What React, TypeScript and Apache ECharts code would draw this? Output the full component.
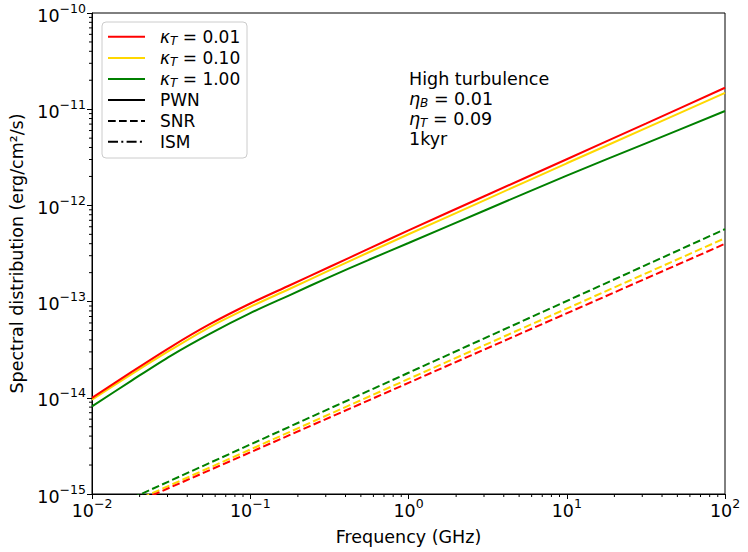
import React, { useEffect, useRef } from 'react';
import * as echarts from 'echarts';

// ---- data ----
const freqGHz = [0.01, 0.0178, 0.0316, 0.0562, 0.1, 0.178, 0.316, 0.562, 1, 3.16, 10, 31.6, 100];
const pwnK001 = [1.0e-14, 1.86e-14, 3.39e-14, 5.89e-14, 9.55e-14, 1.48e-13, 2.29e-13, 3.55e-13, 5.5e-13, 1.29e-12, 3.02e-12, 7.08e-12, 1.67e-11];
const pwnK010 = [9.55e-15, 1.76e-14, 3.16e-14, 5.5e-14, 8.81e-14, 1.36e-13, 2.11e-13, 3.26e-13, 5.01e-13, 1.17e-12, 2.74e-12, 6.35e-12, 1.48e-11];
const pwnK100 = [8.13e-15, 1.51e-14, 2.75e-14, 4.68e-14, 7.59e-14, 1.17e-13, 1.8e-13, 2.72e-13, 4.07e-13, 9.12e-13, 2.04e-12, 4.42e-12, 9.57e-12];

const snrFreqGHz = [0.01, 1, 100];
const snrK001 = [5.14e-16, 1.43e-14, 3.99e-13];
const snrK010 = [5.36e-16, 1.57e-14, 4.56e-13];
const snrK100 = [5.87e-16, 1.82e-14, 5.66e-13];

const kappaLabels = ['0.01', '0.10', '1.00'];
const kappaColors = ['#ff0000', '#ffd700', '#008000'];
const styleLabels = ['PWN', 'SNR', 'ISM'];
const annotationTitle = 'High turbulence';
const etaB = '0.01';
const etaT = '0.09';
const ageLabel = '1kyr';

const xDecades = [-2, -1, 0, 1];
const yDecades = [-15, -14, -13, -12, -11];
const minorSteps = [2, 3, 4, 5, 6, 7, 8, 9];

const xLabel = 'Frequency (GHz)';
const yLabel = 'Spectral distribution (erg/cm²/s)';

const FONT = 'DejaVu Sans';
const DASH = [7.7, 3.3];
const DASHDOT = [10, 3.3, 2, 3.3];

const pair = (xs: number[], ys: number[]) => xs.map((x, i) => [x, ys[i]]);

const expLabel = (v: number) => {
  const e = Math.round(Math.log10(v));
  return `{b|10}{e|${e < 0 ? '\u2212' : ''}${Math.abs(e)}}`;
};

const tickRich = {
  b: { fontSize: 17.5, fontFamily: FONT, color: '#000', lineHeight: 23, verticalAlign: 'bottom' },
  e: { fontSize: 12.5, fontFamily: FONT, color: '#000', lineHeight: 13, verticalAlign: 'top' },
};

export default function App() {
  const ref = useRef<HTMLDivElement>(null);
  useEffect(() => {
    if (!ref.current) return;
    const chart = echarts.init(ref.current, null, { renderer: 'svg' });

    const xMinor: number[][] = [];
    xDecades.forEach((d) => minorSteps.forEach((m) => xMinor.push([m * Math.pow(10, d), 1e-15])));
    const yMinor: number[][] = [];
    yDecades.forEach((d) => minorSteps.forEach((m) => yMinor.push([0.01, m * Math.pow(10, d)])));

    const pwn = [pwnK001, pwnK010, pwnK100];
    const snr = [snrK001, snrK010, snrK100];

    const series: any[] = [];
    pwn.forEach((arr, i) =>
      series.push({
        type: 'line',
        name: 'PWN ' + kappaLabels[i],
        data: pair(freqGHz, arr),
        smooth: 0.3,
        showSymbol: false,
        lineStyle: { color: kappaColors[i], width: 2 },
        z: 3 - i,
      })
    );
    snr.forEach((arr, i) =>
      series.push({
        type: 'line',
        name: 'SNR ' + kappaLabels[i],
        data: pair(snrFreqGHz, arr),
        showSymbol: false,
        lineStyle: { color: kappaColors[i], width: 2, type: DASH },
        z: 3 - i,
      })
    );
    series.push({
      type: 'custom',
      silent: true,
      clip: false,
      data: xMinor,
      encode: { x: 0, y: 1 },
      renderItem: (_p: any, api: any) => {
        const p = api.coord([api.value(0), api.value(1)]);
        return { type: 'line', shape: { x1: p[0], y1: p[1], x2: p[0], y2: p[1] + 3 }, style: { stroke: '#000', lineWidth: 1 } };
      },
    });
    series.push({
      type: 'custom',
      silent: true,
      clip: false,
      data: yMinor,
      encode: { x: 0, y: 1 },
      renderItem: (_p: any, api: any) => {
        const p = api.coord([api.value(0), api.value(1)]);
        return { type: 'line', shape: { x1: p[0] - 3, y1: p[1], x2: p[0], y2: p[1] }, style: { stroke: '#000', lineWidth: 1 } };
      },
    });

    const legendX0 = 108;
    const legendX1 = 145;
    const legendTextX = 160;
    const rowY = [36.7, 58, 79, 100, 121, 141.7];
    const legendEls: any[] = [
      {
        type: 'rect',
        shape: { x: 102, y: 22, width: 145, height: 136, r: 4 },
        style: { fill: 'rgba(255,255,255,0.8)', stroke: '#cccccc', lineWidth: 1 },
      },
    ];
    kappaLabels.forEach((k, i) => {
      legendEls.push({
        type: 'line',
        shape: { x1: legendX0, y1: rowY[i], x2: legendX1, y2: rowY[i] },
        style: { stroke: kappaColors[i], lineWidth: 2 },
      });
      legendEls.push({
        type: 'text',
        x: legendTextX,
        y: rowY[i],
        style: {
          text: `{k|\u03ba}{s|T}{n| = ${k}}`,
          verticalAlign: 'middle',
          rich: {
            k: { fontSize: 17, fontFamily: FONT, fontStyle: 'italic', lineHeight: 20, verticalAlign: 'middle', fill: '#000' },
            s: { fontSize: 12, fontFamily: FONT, fontStyle: 'italic', lineHeight: 12, verticalAlign: 'bottom', fill: '#000' },
            n: { fontSize: 17, fontFamily: FONT, lineHeight: 20, verticalAlign: 'middle', fill: '#000' },
          },
        },
      });
    });
    const dashes = [null, DASH, DASHDOT];
    styleLabels.forEach((s, j) => {
      const y = rowY[3 + j];
      legendEls.push({
        type: 'line',
        shape: { x1: legendX0, y1: y, x2: legendX1, y2: y },
        style: { stroke: '#000', lineWidth: 2, lineDash: dashes[j] || undefined },
      });
      legendEls.push({
        type: 'text',
        x: legendTextX,
        y,
        style: { text: s, fontSize: 17, fontFamily: FONT, fill: '#000', verticalAlign: 'middle' },
      });
    });

    const annX = 409;
    const etaRich = {
      h: { fontSize: 17.5, fontFamily: FONT, fontStyle: 'italic', lineHeight: 20, verticalAlign: 'middle', fill: '#000' },
      s: { fontSize: 12, fontFamily: FONT, fontStyle: 'italic', lineHeight: 12, verticalAlign: 'bottom', fill: '#000' },
      n: { fontSize: 17.5, fontFamily: FONT, lineHeight: 20, verticalAlign: 'middle', fill: '#000' },
    };
    const annEls: any[] = [
      { type: 'text', x: annX, y: 78.5, style: { text: annotationTitle, fontSize: 17.5, fontFamily: FONT, fill: '#000', verticalAlign: 'middle' } },
      { type: 'text', x: annX, y: 98.5, style: { text: `{h|\u03b7}{s|B}{n| = ${etaB}}`, verticalAlign: 'middle', rich: etaRich } },
      { type: 'text', x: annX, y: 118.5, style: { text: `{h|\u03b7}{s|T}{n| = ${etaT}}`, verticalAlign: 'middle', rich: etaRich } },
      { type: 'text', x: annX, y: 138.5, style: { text: ageLabel, fontSize: 17.5, fontFamily: FONT, fill: '#000', verticalAlign: 'middle' } },
    ];

    chart.setOption({
      animation: false,
      backgroundColor: '#fff',
      grid: { left: 92, top: 13, right: 23, bottom: 58, show: true, borderColor: '#000', borderWidth: 1, backgroundColor: 'transparent' },
      xAxis: {
        type: 'log',
        logBase: 10,
        min: 0.01,
        max: 100,
        name: xLabel,
        nameLocation: 'middle',
        nameGap: 34,
        nameTextStyle: { fontSize: 17.5, fontFamily: FONT, color: '#000' },
        axisLine: { lineStyle: { color: '#000', width: 1 } },
        axisTick: { show: true, length: 5, lineStyle: { color: '#000' } },
        axisLabel: { formatter: expLabel, rich: tickRich, margin: 3, color: '#000' },
        splitLine: { show: false },
      },
      yAxis: {
        type: 'log',
        logBase: 10,
        min: 1e-15,
        max: 1e-10,
        name: yLabel,
        nameLocation: 'middle',
        nameGap: 65,
        nameRotate: 90,
        nameTextStyle: { fontSize: 17.5, fontFamily: FONT, color: '#000' },
        axisLine: { lineStyle: { color: '#000', width: 1 } },
        axisTick: { show: true, length: 5, lineStyle: { color: '#000' } },
        axisLabel: { formatter: expLabel, rich: tickRich, margin: 6, color: '#000' },
        splitLine: { show: false },
      },
      series,
      graphic: [...legendEls, ...annEls],
    });
    return () => chart.dispose();
  }, []);
  return <div ref={ref} style={{ position: 'fixed', left: 0, top: 0, width: 748, height: 552, background: '#fff' }} />;
}
